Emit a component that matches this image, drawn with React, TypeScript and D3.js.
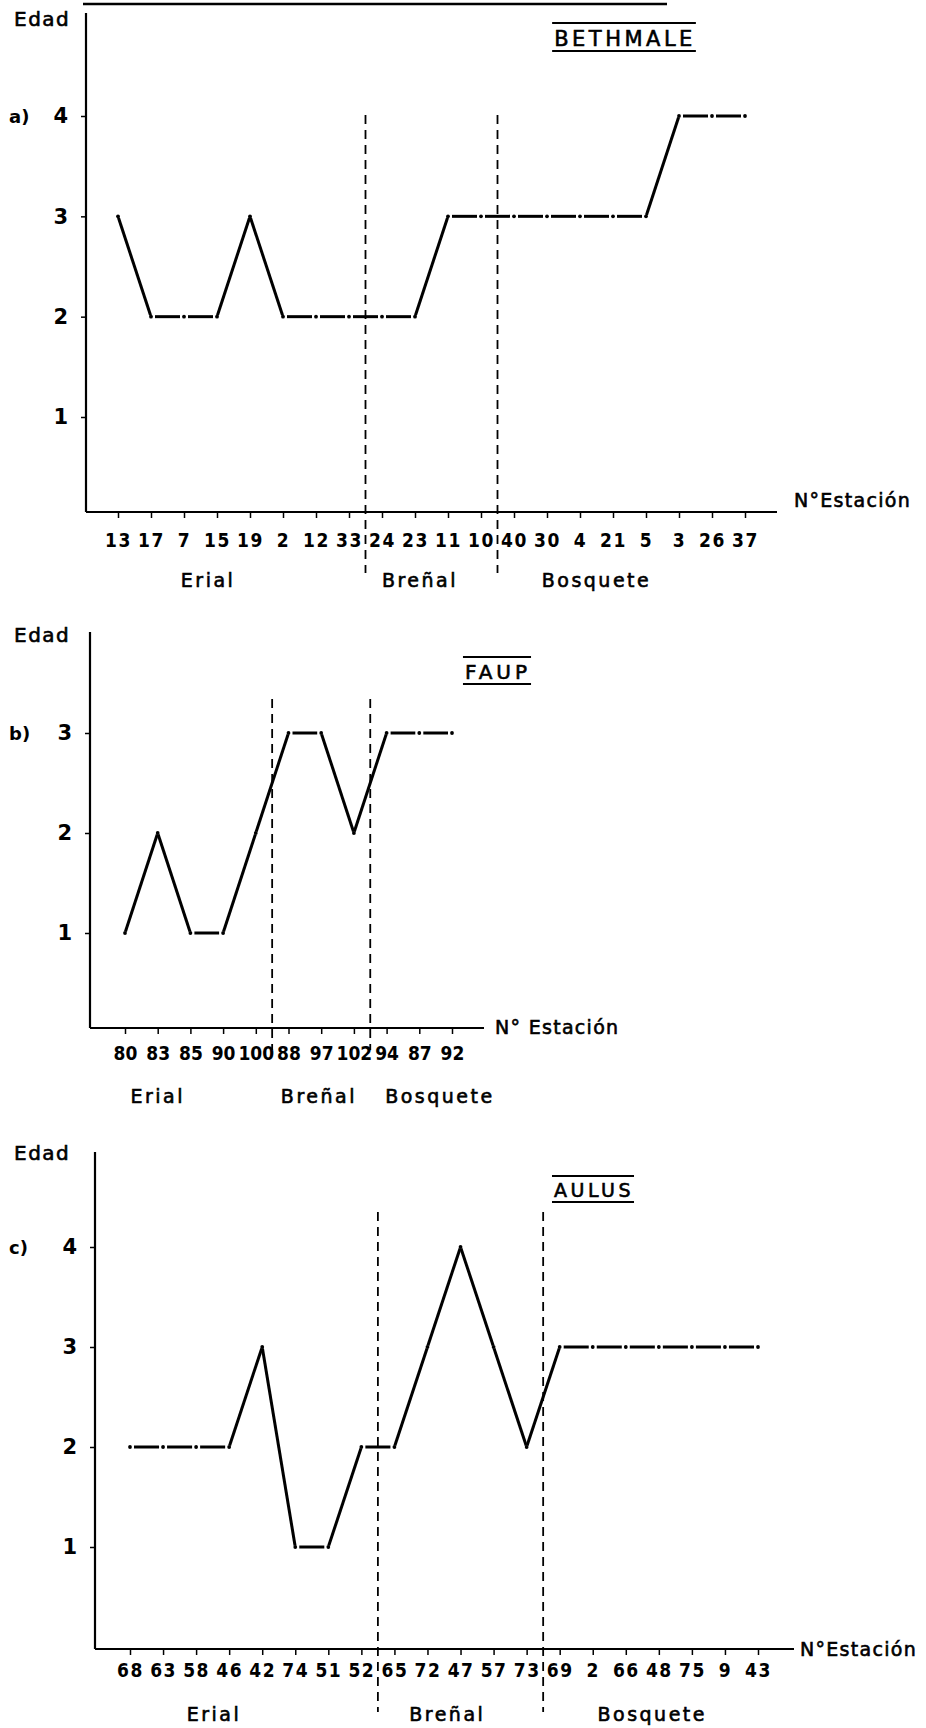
import * as d3 from "d3";
import React, { RefObject, useEffect, useRef } from "react";

// Estaciones y edad (clase)
const stationsA = ["13", "17", "7", "15", "19", "2", "12", "33", "24", "23", "11", "10", "40", "30", "4", "21", "5", "3", "26", "37"];
const edadA = [3, 2, 2, 2, 3, 2, 2, 2, 2, 2, 3, 3, 3, 3, 3, 3, 3, 4, 4, 4];
const cortesA = ["24", "40"];
const yTicksA = [1, 2, 3, 4];

const stationsB = ["80", "83", "85", "90", "100", "88", "97", "102", "94", "87", "92"];
const edadB = [1, 2, 1, 1, 2, 3, 3, 2, 3, 3, 3];
const cortesB = ["88", "94"];
const yTicksB = [1, 2, 3];

const stationsC = ["68", "63", "58", "46", "42", "74", "51", "52", "65", "72", "47", "57", "73", "69", "2", "66", "48", "75", "9", "43"];
const edadC = [2, 2, 2, 2, 3, 1, 1, 2, 2, 3, 4, 3, 2, 3, 3, 3, 3, 3, 3, 3];
const cortesC = ["65", "69"];
const yTicksC = [1, 2, 3, 4];

const zonas = ["Erial", "Breñal", "Bosquete"];
const sitios = ["BETHMALE", "FAUP", "AULUS"];
const letras = ["a)", "b)", "c)"];
const ejeX = ["N°Estación", "N° Estación", "N°Estación"];

const datos = [
  { stations: stationsA, edad: edadA, cortes: cortesA, yTicks: yTicksA },
  { stations: stationsB, edad: edadB, cortes: cortesB, yTicks: yTicksB },
  { stations: stationsC, edad: edadC, cortes: cortesC, yTicks: yTicksC },
];

// posiciones de cada panel
const layouts = [
  { axisX: 86, top: 13, base: 512, xEnd: 777, x0: 118, x1: 745, yLo: 417, yHi: 116, titleX: 625, titleY: 46, titleSize: 21, titleLs: 3.5, divTop: 115, divBottom: 573, labelPad: 16, labelLs: 1.5, groupY: 587, groupAt: [2.73, 9.15, 14.5], estX: 794, estY: 507, edadY: 26 },
  { axisX: 90, top: 632, base: 1028, xEnd: 484, x0: 125, x1: 452, yLo: 933, yHi: 733, titleX: 498, titleY: 679, titleSize: 20, titleLs: 4, divTop: 699, divBottom: 1050, labelPad: 13, labelLs: 0, groupY: 1103, groupAt: [1.0, 5.93, 9.63], estX: 495, estY: 1034, edadY: 642 },
  { axisX: 95, top: 1152, base: 1649, xEnd: 794, x0: 130, x1: 758, yLo: 1547, yHi: 1247, titleX: 594, titleY: 1197, titleSize: 19, titleLs: 3.5, divTop: 1212, divBottom: 1712, labelPad: 9, labelLs: 1.5, groupY: 1721, groupAt: [2.54, 9.6, 15.8], estX: 800, estY: 1656, edadY: 1160 },
];

const FONT = "'DejaVu Sans', sans-serif";
const FONT_C = "'DejaVu Sans Condensed', 'DejaVu Sans', sans-serif";

const App = () => {
  const ref: RefObject<SVGSVGElement> = useRef(null);

  useEffect(() => {
    const svg = d3.select(ref.current);
    svg.selectAll("*").remove();

    // resto de la regla superior
    svg.append("line")
      .attr("x1", 83).attr("x2", 667).attr("y1", 4).attr("y2", 4)
      .attr("stroke", "#000").attr("stroke-width", 2.5);

    datos.forEach((d, p) => {
      const L = layouts[p];
      const g = svg.append("g");
      const x = d3.scalePoint<string>().domain(d.stations).range([L.x0, L.x1]);
      const maxT = d3.max(d.yTicks) as number;
      const y = d3.scaleLinear().domain([1, maxT]).range([L.yLo, L.yHi]);

      // ejes
      g.append("line")
        .attr("x1", L.axisX).attr("x2", L.axisX).attr("y1", L.top).attr("y2", L.base)
        .attr("stroke", "#000").attr("stroke-width", 2.2);
      g.append("line")
        .attr("x1", L.axisX).attr("x2", L.xEnd).attr("y1", L.base).attr("y2", L.base)
        .attr("stroke", "#000").attr("stroke-width", 2.2);

      const ya = g.append("g")
        .attr("transform", `translate(${L.axisX},0)`)
        .call(d3.axisLeft(y).tickValues(d.yTicks).tickSize(5).tickPadding(13).tickFormat(d3.format("d")));
      ya.select(".domain").remove();
      ya.selectAll("line").attr("stroke-width", 1.5);
      ya.selectAll("text")
        .attr("font-family", FONT).attr("font-weight", "bold").attr("font-size", 21).attr("fill", "#000");

      const xa = g.append("g")
        .attr("transform", `translate(0,${L.base})`)
        .call(d3.axisBottom(x).tickSize(6).tickPadding(L.labelPad));
      xa.select(".domain").remove();
      xa.selectAll("line").attr("stroke-width", 1.5);
      xa.selectAll("text")
        .attr("font-family", FONT_C).attr("font-weight", "bold").attr("font-size", 19)
        .attr("letter-spacing", L.labelLs).attr("fill", "#000");

      // textos de ejes
      g.append("text")
        .attr("x", 14).attr("y", L.edadY)
        .attr("font-family", FONT).attr("font-size", 20).attr("letter-spacing", 1.5)
        .attr("stroke", "#000").attr("stroke-width", 0.6)
        .text("Edad");
      g.append("text")
        .attr("x", 9).attr("y", y(maxT) + 7)
        .attr("font-family", FONT).attr("font-weight", "bold").attr("font-size", 18)
        .text(letras[p]);
      g.append("text")
        .attr("x", L.estX).attr("y", L.estY)
        .attr("font-family", FONT).attr("font-size", 19).attr("letter-spacing", 1.3)
        .attr("stroke", "#000").attr("stroke-width", 0.6)
        .text(ejeX[p]);

      // titulo con doble raya
      const t = g.append("text")
        .attr("x", L.titleX).attr("y", L.titleY).attr("text-anchor", "middle")
        .attr("font-family", FONT).attr("font-size", L.titleSize).attr("letter-spacing", L.titleLs)
        .attr("stroke", "#000").attr("stroke-width", 0.6)
        .text(sitios[p]);
      const bb = (t.node() as SVGTextElement).getBBox();
      [L.titleY - L.titleSize - 2, L.titleY + 5].forEach((ly) => {
        g.append("line")
          .attr("x1", bb.x - 2).attr("x2", bb.x + bb.width)
          .attr("y1", ly).attr("y2", ly)
          .attr("stroke", "#000").attr("stroke-width", 2);
      });

      // separadores de zona
      const step = x.step();
      d.cortes.forEach((c) => {
        const xc = (x(c) as number) - step / 2;
        g.append("line")
          .attr("x1", xc).attr("x2", xc).attr("y1", L.divTop).attr("y2", L.divBottom)
          .attr("stroke", "#000").attr("stroke-width", 1.8).attr("stroke-dasharray", "9 6");
      });

      zonas.forEach((z, k) => {
        g.append("text")
          .attr("x", L.x0 + L.groupAt[k] * step).attr("y", L.groupY).attr("text-anchor", "middle")
          .attr("font-family", FONT).attr("font-size", 19).attr("letter-spacing", 2.5)
          .attr("stroke", "#000").attr("stroke-width", 0.6)
          .text(z);
      });

      // linea de edad: trazos con puntos en cada estacion
      const pts = d.stations.map((s, i) => [x(s) as number, y(d.edad[i])]);
      for (let i = 0; i < pts.length - 1; i++) {
        const [xa1, ya1] = pts[i];
        const [xa2, ya2] = pts[i + 1];
        const len = Math.hypot(xa2 - xa1, ya2 - ya1);
        const gap = ya1 === ya2 ? 4 : 1.5;
        const ux = (xa2 - xa1) / len;
        const uy = (ya2 - ya1) / len;
        g.append("line")
          .attr("x1", xa1 + ux * gap).attr("y1", ya1 + uy * gap)
          .attr("x2", xa2 - ux * gap).attr("y2", ya2 - uy * gap)
          .attr("stroke", "#000").attr("stroke-width", 3);
      }
      g.selectAll("circle.pt")
        .data(pts)
        .enter()
        .append("circle")
        .attr("class", "pt")
        .attr("cx", (q) => q[0]).attr("cy", (q) => q[1]).attr("r", 1.9)
        .attr("fill", "#000");
    });
  }, [ref]);

  return (
    <svg
      ref={ref}
      width={926}
      height={1728}
      style={{ position: "absolute", left: 0, top: 0, background: "#fff" }}
    />
  );
};

export default App;
